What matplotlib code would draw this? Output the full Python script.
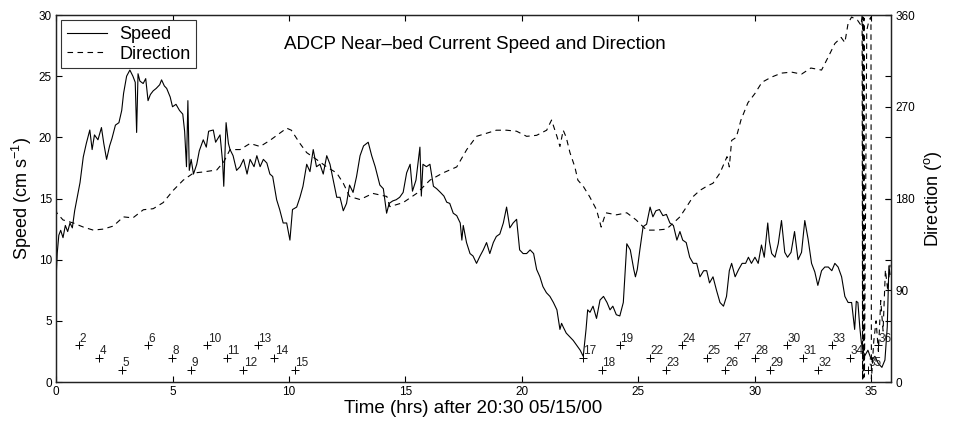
import matplotlib
matplotlib.use("Agg")
import matplotlib.pyplot as plt
from matplotlib.lines import Line2D

plt.rcParams['font.family'] = ['Liberation Sans', 'DejaVu Sans']
plt.rcParams['mathtext.fontset'] = 'custom'
plt.rcParams['mathtext.rm'] = 'Liberation Sans'
plt.rcParams['mathtext.it'] = 'Liberation Sans'

# ---------------- data ----------------
speed_t = [0.0, 0.05, 0.12, 0.2, 0.3, 0.4, 0.5, 0.6, 0.7, 0.8, 0.9, 1.03, 1.17, 1.3, 1.45, 1.55,
           1.65, 1.8, 1.95, 2.05, 2.17, 2.3, 2.4, 2.55, 2.7, 2.82, 2.9, 3.03, 3.17, 3.3, 3.4, 3.46,
           3.52, 3.6, 3.74, 3.85, 3.95, 4.05, 4.17, 4.3, 4.45, 4.53, 4.65, 4.75, 4.9, 5.0, 5.15,
           5.3, 5.44, 5.52, 5.6, 5.66, 5.72, 5.8, 5.9, 6.04, 6.15, 6.32, 6.45, 6.55, 6.75, 6.85,
           7.04, 7.15, 7.2, 7.3, 7.4, 7.47, 7.6, 7.75, 7.9, 8.05, 8.2, 8.33, 8.5, 8.62, 8.76, 8.9,
           9.05, 9.18, 9.3, 9.47, 9.6, 9.75, 9.9, 10.04, 10.15, 10.33, 10.47, 10.6, 10.76, 10.9,
           11.04, 11.18, 11.33, 11.47, 11.62, 11.76, 11.9, 12.05, 12.19, 12.33, 12.47, 12.6,
           12.75, 12.9, 13.05, 13.2, 13.4, 13.55, 13.7, 13.9, 14.05, 14.19, 14.3, 14.45, 14.6,
           14.75, 14.9, 15.05, 15.2, 15.3, 15.45, 15.62, 15.68, 15.75, 15.9, 16.05, 16.2, 16.34,
           16.5, 16.65, 16.77, 16.9, 17.05, 17.2, 17.35, 17.42, 17.48, 17.62, 17.77, 17.9, 18.05,
           18.2, 18.34, 18.48, 18.62, 18.77, 18.9, 19.05, 19.2, 19.34, 19.48, 19.62, 19.77, 19.9,
           20.05, 20.2, 20.35, 20.5, 20.63, 20.77, 20.9, 21.05, 21.2, 21.35, 21.5, 21.63, 21.7,
           21.77, 21.9, 22.05, 22.2, 22.35, 22.5, 22.63, 22.75, 22.82, 22.92, 23.05, 23.2, 23.35,
           23.5, 23.65, 23.78, 23.9, 24.05, 24.2, 24.35, 24.5, 24.65, 24.8, 24.87, 24.95, 25.06,
           25.2, 25.35, 25.5, 25.62, 25.75, 25.9, 26.05, 26.2, 26.35, 26.5, 26.65, 26.78, 26.9,
           27.05, 27.2, 27.35, 27.5, 27.64, 27.8, 27.93, 28.05, 28.2, 28.35, 28.5, 28.65, 28.78,
           28.9, 29.0, 29.15, 29.3, 29.45, 29.6, 29.72, 29.85, 30.0, 30.14, 30.28, 30.4, 30.55,
           30.62, 30.72, 30.86, 31.0, 31.14, 31.28, 31.4, 31.55, 31.7, 31.85, 32.0, 32.14, 32.28,
           32.43, 32.57, 32.7, 32.86, 33.0, 33.15, 33.3, 33.43, 33.57, 33.72, 33.86, 34.0, 34.15,
           34.28, 34.35, 34.42, 34.5, 34.57, 34.7, 34.85, 35.0, 35.15, 35.3, 35.45, 35.58, 35.68,
           35.75, 35.8]
speed_v = [8.3, 10.5, 12.0, 12.4, 11.8, 12.8, 12.3, 13.0, 12.6, 14.0, 15.0, 16.3, 18.4, 19.5, 20.6, 19.0,
           20.2, 19.8, 20.8, 19.5, 18.2, 19.3, 19.9, 21.0, 21.2, 22.2, 23.6, 25.0, 25.5, 25.0, 24.5, 20.4,
           25.2, 24.6, 24.4, 24.8, 23.0, 23.5, 23.8, 24.0, 24.3, 24.7, 24.2, 24.0, 23.3, 22.5, 22.7,
           22.2, 21.9, 20.5, 17.6, 23.0, 17.3, 18.2, 17.0, 17.8, 18.9, 19.8, 19.2, 20.5, 20.6, 19.6,
           20.2, 18.0, 16.0, 21.2, 19.5, 19.0, 18.5, 17.3, 17.6, 18.2, 17.0, 18.2, 17.6, 18.5, 17.6, 18.2,
           17.9, 17.0, 16.8, 14.9, 14.1, 13.0, 13.0, 11.6, 14.1, 14.3, 15.1, 16.0, 17.8, 17.2,
           19.0, 17.6, 17.8, 17.0, 18.5, 17.8, 16.5, 15.1, 15.1, 14.0, 14.6, 16.1,
           15.5, 16.8, 18.5, 19.3, 19.6, 18.5, 17.6, 16.1, 15.8, 13.8, 14.6, 14.8, 14.9,
           15.1, 15.5, 17.1, 17.8, 15.6, 16.5, 19.2, 15.2, 17.8, 17.6, 17.8, 16.0, 15.8,
           15.5, 15.2, 14.7, 14.6, 13.8, 13.6, 13.0, 11.6, 12.8, 11.4, 10.5, 10.3, 9.7,
           10.3, 10.8, 11.4, 10.5, 11.4, 11.9, 12.1, 13.0, 14.3, 12.6, 13.0, 13.3, 10.8,
           10.5, 10.5, 10.8, 10.5, 9.2, 8.6, 7.8, 7.3, 7.0, 6.5, 5.9, 4.3, 4.8,
           4.5, 4.0, 3.7, 3.4, 3.0, 2.6, 2.1, 4.3, 5.9, 5.7, 6.2, 5.2, 6.7,
           7.0, 6.5, 5.9, 6.2, 5.5, 5.4, 6.5, 11.3, 10.8, 9.2, 8.6, 9.2, 10.8,
           12.7, 12.9, 14.3, 13.5, 14.0, 14.1, 13.6, 13.7, 13.0, 12.8, 11.6, 12.3, 11.6,
           11.4, 10.2, 9.7, 9.7, 8.6, 9.1, 9.1, 8.1, 8.6, 7.5, 6.5, 6.2, 7.0,
           9.1, 9.7, 8.6, 9.2, 9.7, 9.7, 10.2, 9.7, 10.2, 9.7, 11.2, 10.2, 13.0,
           11.5, 10.5, 10.2, 11.3, 13.2, 10.6, 10.2, 10.6, 12.3, 10.0, 10.6, 13.2, 11.7,
           9.7, 9.0, 7.9, 9.1, 9.4, 9.4, 9.1, 9.7, 9.4, 8.6, 7.0, 6.5, 6.5,
           4.3, 6.6, 6.5, 4.5, 3.2, 2.1, 2.6, 1.8, 2.1, 1.5, 1.2, 1.8, 4.5,
           9.5, 8.8]

dir_t = [0.0, 0.03, 0.3, 0.74, 1.17, 1.6, 2.03, 2.46, 2.89, 3.3, 3.75, 4.17, 4.6, 5.03, 5.46, 5.9,
         6.3, 6.9, 7.2, 7.47, 7.9, 8.33, 8.76, 9.18, 9.6, 9.9, 10.1, 10.47, 10.76, 11.2, 11.62,
         12.05, 12.33, 12.6, 13.05, 13.6, 14.2, 14.33, 14.9, 15.48, 16.05, 16.6, 17.2, 17.63,
         18.05, 18.48, 18.9, 19.34, 19.77, 20.2, 20.63, 21.06, 21.27, 21.5, 21.63, 21.77, 21.9,
         22.06, 22.27, 22.4, 22.63, 22.9, 23.2, 23.4, 23.6, 24.06, 24.5, 24.9, 25.35, 25.78,
         26.2, 26.5, 26.78, 27.07, 27.35, 27.64, 27.93, 28.2, 28.5, 28.8, 28.9, 29.0, 29.2,
         29.4, 29.7, 30.0, 30.3, 30.7, 31.14, 31.57, 32.0, 32.4, 32.86, 33.15, 33.43, 33.7,
         33.86, 34.0, 34.15, 34.4, 34.55, 34.6, 34.62, 34.64, 34.66, 34.68, 34.7, 34.8, 34.9,
         34.98, 35.0, 35.1, 35.2, 35.3, 35.4, 35.5, 35.6, 35.7, 35.8]
dir_v = [170, 166, 159, 156, 152, 149, 150, 153, 162, 161, 169, 170, 176, 188, 198, 205,
         206, 208, 216, 228, 228, 234, 231, 237, 244, 249, 247, 234, 225, 218, 211,
         205, 195, 182, 179, 185, 182, 172, 176, 185, 198, 205, 211, 228,
         241, 244, 247, 247, 246, 241, 242, 247, 257, 241, 231, 247, 240,
         225, 211, 198, 192, 182, 169, 152, 166, 164, 166, 159, 149, 149,
         150, 156, 162, 172, 182, 188, 192, 195, 205, 221, 211, 237, 240,
         257, 274, 283, 294, 299, 303, 304, 302, 308, 306, 319, 332, 338,
         333, 352, 358, 355, 350, 359, 2, 358, 4, 357, 5, 345, 355,
         358, 3, 40, 60, 30, 80, 50, 110, 90, 115]

mark_t = [0.99, 1.86, 2.82, 3.96, 4.99, 5.80, 6.50, 7.33, 8.04, 8.66, 9.36, 10.26,
          22.60, 23.42, 24.20, 25.50, 26.20, 26.85, 27.93, 28.70, 29.28, 30.00, 30.64,
          31.36, 32.07, 32.72, 33.29, 34.10, 34.85, 35.30]
mark_v = [3, 2, 1, 3, 2, 1, 3, 2, 1, 3, 2, 1,
          2, 1, 3, 2, 1, 3, 2, 1, 3, 2, 1,
          3, 2, 1, 3, 2, 1, 3]
mark_lbl = ['2', '4', '5', '6', '8', '9', '10', '11', '12', '13', '14', '15',
            '17', '18', '19', '22', '23', '24', '25', '26', '27', '28', '29',
            '30', '31', '32', '33', '34', '35', '36']

x_ticks = [0, 5, 10, 15, 20, 25, 30, 35]
speed_ticks = [0, 5, 10, 15, 20, 25, 30]
dir_ticks = [0, 90, 180, 270, 360]

# ---------------- figure ----------------
fig = plt.figure(figsize=(9.56, 4.24), dpi=100)
ax = fig.add_axes([0.0586, 0.099, 0.8734, 0.8656])
ax2 = ax.twinx()

ax.plot(speed_t, speed_v, color='black', lw=0.8)
ax.plot(mark_t, mark_v, linestyle='none', marker='+', color='black', ms=6, mew=0.7)
for t, v, s in zip(mark_t, mark_v, mark_lbl):
    ax.text(t + 0.02, v + 0.05, s, fontsize=8.5, ha='left', va='bottom', color='#222222')

ax2.plot(dir_t, dir_v, color='black', lw=0.8, dashes=(5, 4))

ax.set_xlim(0, 35.84)
ax.set_ylim(0, 30)
ax2.set_ylim(0, 360)
ax.set_xticks(x_ticks)
ax.set_yticks(speed_ticks)
ax2.set_yticks(dir_ticks)

ax.tick_params(direction='in', length=4, width=0.8, top=True, right=True,
               labelsize=8.5, pad=3)
ax2.tick_params(direction='in', length=4, width=0.8, labelsize=8.5, pad=3)
for a in (ax, ax2):
    for sp in a.spines.values():
        sp.set_linewidth(0.9)
        sp.set_color('#222222')

ax.set_xlabel('Time (hrs) after 20:30 05/15/00', fontsize=13.5, labelpad=1)
ax.set_ylabel(r'Speed (cm s$^{-1}$)', fontsize=13, labelpad=3)
ax2.set_ylabel(r'Direction ($^{\rm o}$)', fontsize=13, labelpad=5)

ax.text(18.0, 27.6, 'ADCP Near\u2013bed Current Speed and Direction', fontsize=13.5,
        ha='center', va='center')

handles = [Line2D([], [], color='black', lw=0.8),
           Line2D([], [], color='black', lw=0.8, dashes=(5, 4))]
leg = ax2.legend(handles, ['Speed', 'Direction'], loc='upper left', fontsize=13,
                 frameon=True, fancybox=False, framealpha=1, edgecolor='#333333',
                 borderpad=0.3, labelspacing=0.15, handlelength=2.2, handletextpad=0.7,
                 borderaxespad=0.3)
leg.get_frame().set_linewidth(0.8)

fig.savefig('out.png', dpi=100)
